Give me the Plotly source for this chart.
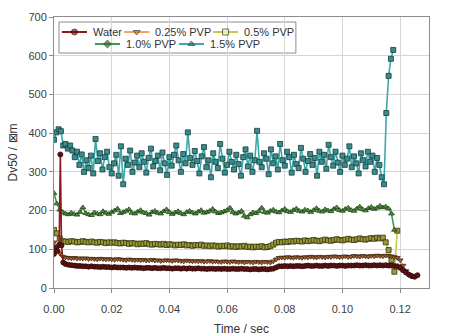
import numpy as np
import plotly.graph_objects as go

# ---- measured droplet size Dv50 (um) versus time (s) ----
names = ["Water", "0.25% PVP", "0.5% PVP", "1.0% PVP", "1.5% PVP"]

# sampling instants
t_pvp15 = np.round(np.arange(148) * 0.0008, 4)
t_pvp10 = np.round(np.arange(119) * 0.001, 3)
t_pvp05 = np.round(np.arange(120) * 0.001, 3)
t_pvp025 = np.round(np.arange(125) * 0.001, 3)
t_water = [0.0, 0.0006, 0.0012, 0.0018, 0.0022, 0.0026, 0.0032] + list(
    np.round(0.004 + np.arange(123) * 0.001, 3))

dv50_pvp15 = [
    383, 402, 410, 405, 368, 372, 360, 368, 355, 338,
    352, 318, 345, 300, 330, 310, 342, 296, 385, 328,
    348, 306, 338, 352, 312, 296, 322, 344, 290, 366,
    268, 334, 318, 355, 300, 324, 342, 312, 348, 326,
    298, 336, 360, 314, 328, 342, 304, 350, 322, 292,
    338, 316, 344, 368, 330, 300, 346, 322, 402, 336,
    318, 354, 328, 296, 340, 364, 312, 330, 286, 348,
    326, 310, 372, 334, 298, 318, 352, 326, 306, 344,
    320, 290, 338, 358, 314, 342, 300, 330, 406, 326,
    312, 348, 334, 294, 358, 322, 340, 306, 372, 330,
    316, 352, 338, 298, 344, 320, 310, 362, 334, 300,
    328, 346, 318, 336, 290, 352, 326, 344, 308, 370,
    338, 316, 352, 324, 300, 342, 318, 334, 366, 312,
    340, 322, 296, 348, 330, 314, 352, 326, 342, 300,
    336, 318, 286, 268, 452, 548, 592, 615,
]

dv50_pvp10 = [
    245, 218, 202, 196, 192, 190, 194, 191, 189, 196,
    208, 193, 190, 188, 195, 192, 190, 198, 194, 191,
    196, 200, 205, 193, 196, 199, 203, 194, 192, 197,
    201, 195, 193, 189, 196, 199, 194, 192, 198, 203,
    196, 191, 195, 198, 193, 190, 196, 199, 195, 192,
    197, 201, 194, 196, 199, 204, 197, 193, 195, 198,
    201, 207, 196, 192, 195, 199, 186, 182, 190, 195,
    193, 198, 207, 196, 194, 199, 202, 197, 195, 200,
    204, 198, 196, 201, 205, 199, 197, 202, 200, 196,
    201, 206, 199, 197, 203, 200, 198, 204, 208, 201,
    199, 204, 207, 201, 199, 205, 210, 203, 200, 206,
    209, 204, 207, 212, 208, 210, 205, 192, 150,
]

dv50_pvp05 = [
    150, 141, 128, 121, 120, 119, 121, 120, 118, 119,
    121, 119, 118, 120, 118, 117, 119, 118, 116, 118,
    117, 118, 116, 115, 117, 116, 114, 116, 115, 113,
    115, 114, 116, 113, 112, 114, 113, 112, 114, 111,
    113, 112, 110, 112, 111, 113, 110, 111, 109, 111,
    110, 112, 109, 110, 108, 110, 109, 107, 109, 108,
    110, 107, 108, 106, 108, 107, 109, 106, 107, 105,
    107, 106, 108, 105, 106, 108, 112, 117, 119, 118,
    120, 119, 121, 120, 122, 121, 120, 123, 121, 122,
    124, 122, 121, 123, 125, 123, 122, 124, 126, 124,
    123, 125, 127, 125, 124, 126, 128, 126, 125, 127,
    129, 127, 130, 128, 130, 118, 98, 72, 42, 148,
]

dv50_pvp025 = [
    118, 104, 90, 81, 79, 78, 77, 78, 76, 77,
    76, 77, 75, 76, 75, 74, 76, 75, 74, 75,
    74, 73, 75, 74, 73, 72, 74, 73, 72, 73,
    72, 73, 71, 72, 73, 71, 72, 70, 71, 72,
    71, 70, 72, 71, 70, 69, 71, 70, 69, 70,
    69, 70, 68, 69, 70, 68, 69, 68, 67, 69,
    68, 67, 69, 68, 67, 68, 66, 68, 67, 66,
    68, 67, 66, 68, 67, 66, 69, 74, 78, 79,
    78, 80, 79, 78, 80, 79, 78, 80, 79, 81,
    80, 79, 81, 80, 79, 81, 80, 82, 81, 80,
    81, 82, 80, 81, 83, 82, 81, 83, 82, 81,
    83, 82, 84, 83, 82, 84, 83, 82, 80, 78,
    72, 58, 44, 34, 30,
]

dv50_water = [
    88, 104, 96, 112, 345, 110, 66,
    62, 60, 59, 58, 57, 57, 56, 56, 55, 56,
    55, 55, 54, 55, 54, 54, 53, 54, 53, 53,
    53, 52, 53, 52, 53, 52, 52, 51, 52, 52,
    51, 52, 51, 51, 52, 51, 51, 50, 51, 51,
    50, 51, 50, 51, 50, 50, 51, 50, 50, 49,
    50, 50, 49, 50, 49, 50, 49, 49, 50, 49,
    49, 50, 49, 49, 48, 49, 49, 48, 49, 49,
    48, 49, 50, 53, 56, 56, 57, 56, 57, 56,
    57, 57, 56, 57, 58, 57, 57, 58, 57, 57,
    58, 57, 58, 58, 57, 58, 58, 57, 58, 58,
    58, 59, 58, 58, 59, 58, 58, 59, 58, 59,
    58, 59, 58, 58, 57, 56, 52, 46, 40, 35,
    31, 29, 33,
]

times = [t_water, t_pvp025, t_pvp05, t_pvp10, t_pvp15]
values = [dv50_water, dv50_pvp025, dv50_pvp05, dv50_pvp10, dv50_pvp15]

# styling per series
line_colors = ["#8b1a1a", "#f2a35e", "#c9c94e", "#3e9a4c", "#3fa8aa"]
fill_colors = ["#5c1212", "#a8642e", "#9c9a34", "#4f8f3a", "#3a8c8c"]
edge_colors = ["#2e0808", "#3e220e", "#343412", "#1e3e18", "#173c3c"]
plot_symbols = ["circle", "triangle-down", "square", "triangle-up", "square"]
key_symbols = ["circle", "triangle-down", "square", "diamond", "triangle-up"]
key_fills = ["#6a1414", "#c97a3c", "#f4f4d0", "#2f6f34", "#2f7f80"]

# boxed key: sample start (fraction of plot width) and row (fraction of plot height)
key_x = [0.021, 0.187, 0.424, 0.109, 0.333]
key_y = [0.9446, 0.9446, 0.9446, 0.9004, 0.9004]
KEY_LEN = 0.067     # sample line length (~25 px)
KEY_GAP = 0.011     # gap between sample and label

FONT = "Liberation Sans, Arial, sans-serif"

fig = go.Figure()

# data traces, bottom to top
for i in [4, 2, 3, 1, 0]:
    fig.add_trace(go.Scatter(
        x=times[i], y=values[i], mode="lines+markers", name=names[i],
        showlegend=False,
        line=dict(color=line_colors[i], width=1.6),
        marker=dict(symbol=plot_symbols[i], size=5, color=fill_colors[i],
                    line=dict(color=edge_colors[i], width=0.8)),
    ))

# key samples on a hidden overlay axis spanning the plot area in [0, 1]
annotations = []
for i in range(len(names)):
    x0 = key_x[i]
    fig.add_trace(go.Scatter(
        x=[x0, x0 + KEY_LEN / 2, x0 + KEY_LEN], y=[key_y[i]] * 3,
        xaxis="x2", yaxis="y2", mode="lines+markers", name=names[i],
        showlegend=False, hoverinfo="skip",
        line=dict(color=line_colors[i], width=2),
        marker=dict(symbol=key_symbols[i], size=[0, 6, 0], color=key_fills[i],
                    line=dict(color=edge_colors[i], width=1)),
    ))
    annotations.append(dict(
        x=x0 + KEY_LEN + KEY_GAP, y=key_y[i], xref="paper", yref="paper",
        text=names[i], showarrow=False, xanchor="left", yanchor="middle",
        font=dict(family=FONT, size=11, color="#333333"),
    ))

axis_common = dict(
    showgrid=True, gridcolor="#d6d6d6", gridwidth=1,
    showline=True, linecolor="#8c8c8c", linewidth=1, mirror=True,
    ticks="outside", ticklen=4, tickcolor="#8c8c8c",
    tickfont=dict(family=FONT, size=11, color="#404040"),
    zeroline=False, automargin=False,
)

fig.update_layout(
    width=450, height=336,
    margin=dict(l=54, r=21, t=17, b=48),
    paper_bgcolor="white", plot_bgcolor="white",
    showlegend=False,
    font=dict(family=FONT, size=11, color="#404040"),
    xaxis=dict(range=[0, 0.13], dtick=0.02, tick0=0, tickformat=".2f",
               ticklabelstandoff=7,
               title=dict(text="Time / sec", font=dict(size=12, color="#333333"),
                          standoff=10),
               **axis_common),
    yaxis=dict(range=[0, 700], dtick=100, tick0=0,
               title=dict(text="Dv50 / \u22a0m", font=dict(size=12, color="#333333"),
                          standoff=8),
               **axis_common),
    xaxis2=dict(overlaying="x", range=[0, 1], visible=False, fixedrange=True),
    yaxis2=dict(overlaying="y", range=[0, 1], visible=False, fixedrange=True),
    shapes=[dict(type="rect", xref="paper", yref="paper",
                 x0=0.0133, x1=0.645, y0=0.867, y1=0.9815,
                 line=dict(color="#8c8c8c", width=1), fillcolor="white",
                 layer="between")],
    annotations=annotations,
)

fig.write_html("out.html")
